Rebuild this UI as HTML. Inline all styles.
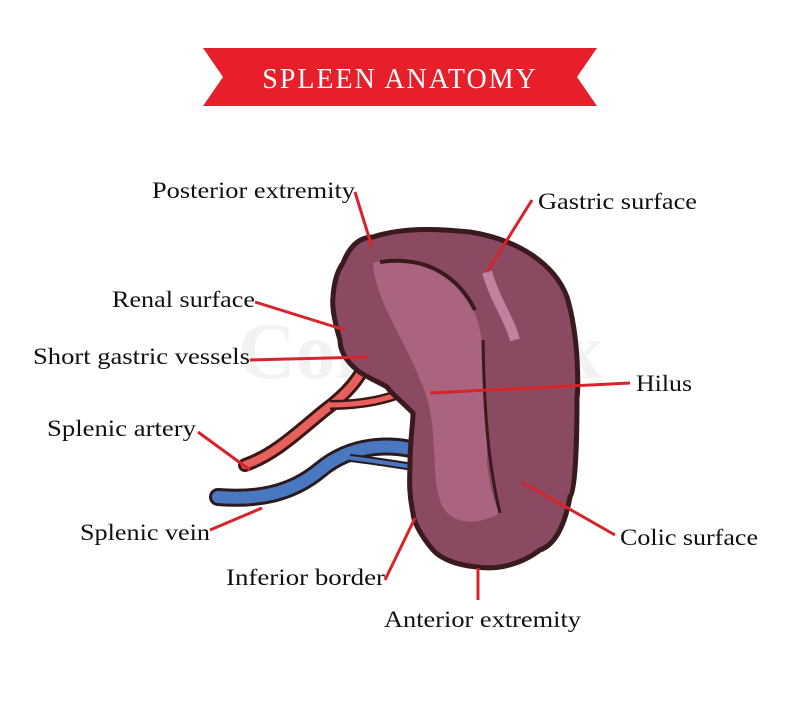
<!DOCTYPE html>
<html><head><meta charset="utf-8"><style>
html,body{margin:0;padding:0;background:#fff;}
svg{display:block}
text{font-family:"Liberation Serif",serif;}
</style></head><body>
<svg width="800" height="714" viewBox="0 0 800 714" xmlns="http://www.w3.org/2000/svg">
<polygon points="203,48 597,48 577,77 597,106 203,106 223,77" fill="#e61f2a"/>
<text x="400" y="88" text-anchor="middle" font-size="28" fill="#fff" letter-spacing="2">SPLEEN ANATOMY</text>
<text x="420" y="378" text-anchor="middle" font-size="80" font-family="Liberation Sans" font-weight="bold" fill="#f2f2f2">Colourbox</text>
<!-- vessels -->
<path d="M372,352 C360,380 345,395 325,410 C300,430 275,455 245,465" stroke="#3a1614" stroke-width="14" fill="none" stroke-linecap="round"/>
<path d="M372,352 C360,380 345,395 325,410 C300,430 275,455 245,465" stroke="#e8605c" stroke-width="8" fill="none" stroke-linecap="round"/>
<path d="M330,405 C360,405 390,400 412,388" stroke="#3a1614" stroke-width="10" fill="none"/>
<path d="M330,405 C360,405 390,400 412,388" stroke="#e8605c" stroke-width="5" fill="none"/>
<path d="M432,455 C390,440 350,445 320,470 C290,495 255,500 218,497" stroke="#2a1a20" stroke-width="18" fill="none" stroke-linecap="round"/>
<path d="M432,455 C390,440 350,445 320,470 C290,495 255,500 218,497" stroke="#4a78c0" stroke-width="12" fill="none" stroke-linecap="round"/>
<path d="M432,470 C400,465 370,460 350,458" stroke="#2a1a20" stroke-width="8" fill="none"/>
<path d="M432,470 C400,465 370,460 350,458" stroke="#4a78c0" stroke-width="4" fill="none"/>
<!-- spleen -->
<path d="M343,263 C350,245 360,237 373,237 C400,228 433,228 470,232 C520,240 555,265 567,297 C580,340 578,397 577,397 C577,440 575,497 570,497 C565,525 555,545 540,550 C520,565 497,570 477,567 C455,565 440,558 433,550 C420,535 413,520 413,513 C408,490 410,475 410,463 C410,440 413,425 413,413 C400,400 390,392 387,387 C375,380 362,375 357,370 C345,360 340,350 340,340 C334,320 332,305 333,297 C334,280 338,270 343,263 Z" fill="#8a4a62" stroke="#3a1a1c" stroke-width="5"/>
<path d="M373,263 C410,250 450,270 467,297 C480,320 483,340 483,363 C486,400 487,440 487,463 C490,490 495,505 500,513 C470,530 445,520 440,500 C430,470 440,420 420,380 C405,340 375,300 373,263 Z" fill="#b16a87" opacity="0.8"/>
<path d="M380,262 C430,255 460,280 475,310" stroke="#3a1a1c" stroke-width="4" fill="none"/>
<path d="M487,272 C495,300 510,320 515,340" stroke="#e6a8c8" stroke-width="10" fill="none" opacity="0.6"/>
<path d="M483,340 C484,400 487,460 500,513" stroke="#3a1a1c" stroke-width="3" fill="none"/>
<!-- leader lines -->
<g stroke="#d8232a" stroke-width="3" fill="none">
<line x1="355" y1="192" x2="372" y2="247"/>
<line x1="532" y1="200" x2="487" y2="272"/>
<line x1="255" y1="302" x2="345" y2="330"/>
<line x1="250" y1="360" x2="368" y2="357"/>
<line x1="630" y1="383" x2="430" y2="393"/>
<line x1="198" y1="432" x2="250" y2="470"/>
<line x1="210" y1="530" x2="262" y2="508"/>
<line x1="615" y1="535" x2="522" y2="482"/>
<line x1="385" y1="580" x2="415" y2="518"/>
<line x1="478" y1="600" x2="478" y2="568"/>
</g>
<g font-size="23" fill="#111">
<text x="152" y="198" textLength="203" lengthAdjust="spacingAndGlyphs">Posterior extremity</text>
<text x="538" y="209" textLength="159" lengthAdjust="spacingAndGlyphs">Gastric surface</text>
<text x="112" y="307" textLength="143" lengthAdjust="spacingAndGlyphs">Renal surface</text>
<text x="33" y="364" textLength="217" lengthAdjust="spacingAndGlyphs">Short gastric vessels</text>
<text x="636" y="391" textLength="56" lengthAdjust="spacingAndGlyphs">Hilus</text>
<text x="47" y="436" textLength="149" lengthAdjust="spacingAndGlyphs">Splenic artery</text>
<text x="80" y="540" textLength="130" lengthAdjust="spacingAndGlyphs">Splenic vein</text>
<text x="620" y="545" textLength="138" lengthAdjust="spacingAndGlyphs">Colic surface</text>
<text x="226" y="585" textLength="159" lengthAdjust="spacingAndGlyphs">Inferior border</text>
<text x="384" y="627" textLength="197" lengthAdjust="spacingAndGlyphs">Anterior extremity</text>
</g>
</svg>
</body></html>
